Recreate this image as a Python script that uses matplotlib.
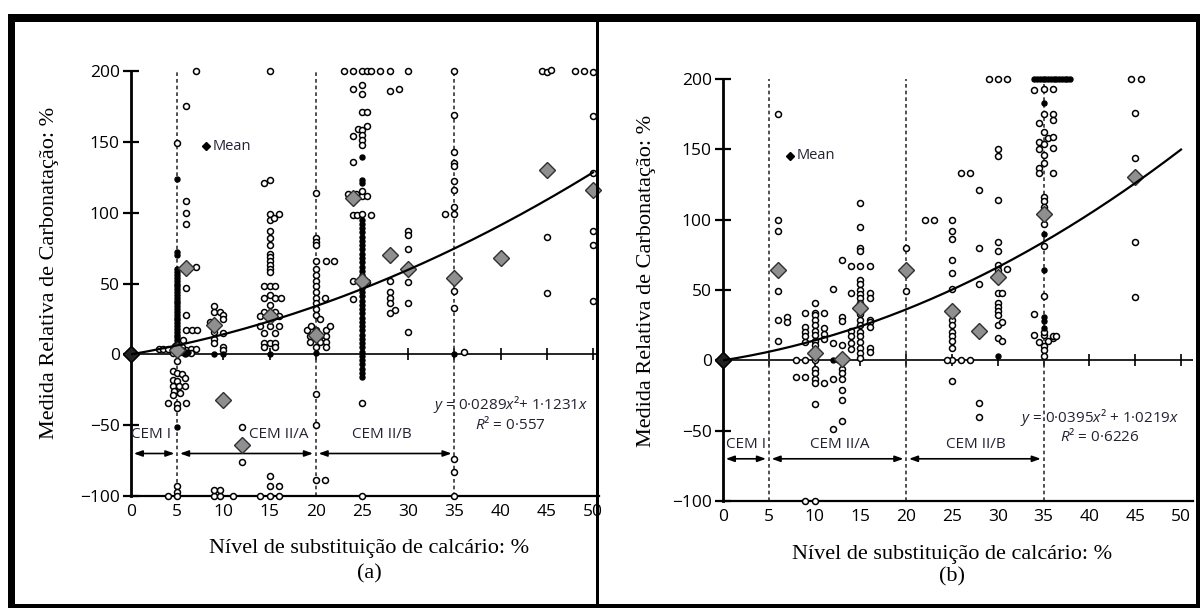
import matplotlib.pyplot as plt
from matplotlib.patches import Rectangle
import numpy as np

plt.rcParams['font.family'] = ['Open Sans', 'DejaVu Sans']
plt.rcParams['mathtext.fontset'] = 'custom'
plt.rcParams['mathtext.rm'] = 'Open Sans'
plt.rcParams['mathtext.it'] = 'Open Sans:italic'

# ---------------- painel (a) ----------------
a_cem1 = [(7, 200), (6, 175), (5, 149), (6, 108), (6, 100), (6, 92),
          (7, 62), (6, 47), (6, 28), (6, 17), (6.6, 17), (7.1, 17),
          (3, 4), (3.5, 4), (4, 4), (4.5, 4)]
a_x5 = [(5.5, 2), (6, 3), (6.5, 4), (6, 1), (5.5, 5), (6.5, 1), (7, 4), (4.5, 1), (5.2, 8), (5.6, 10),
        (4.8, 6), (5, -5), (4.5, -12), (5, -13), (5.5, -14), (4.5, -18), (5, -19), (5.8, -17),
        (4.5, -22), (5.2, -22), (5.8, -22), (4.7, -26), (5.3, -27), (4.5, -29), (4, -34), (5, -35),
        (6, -34), (5, -38), (5, -93), (5, -97), (4, -100), (5, -100)]
a_x10 = [(9, 34), (9, 30), (9.6, 30), (10, 28), (8.5, 23), (9, 16), (9, 11), (10, 15), (10, 25),
         (10, 5), (10, 3), (9, 8), (12, -51), (12, -76), (9, -100), (9.6, -100),
         (9, -96), (9.6, -96), (11, -100)]
a_x15 = [(14.4, 121), (15, 123), (15, 200), (15, 99), (16, 99), (15, 95), (15.5, 96), (15, 87),
         (15, 82), (15, 77), (15, 71), (15, 69), (15, 66), (15, 63), (15, 60), (15, 58), (14.4, 48),
         (15, 48), (15.6, 48), (15, 42), (14.4, 40), (15.6, 40), (16.2, 40), (15, 35), (14.4, 30),
         (15.6, 30), (14, 27), (15, 27), (16, 27), (14, 20), (15, 20), (16, 20), (14.4, 15),
         (15.6, 15), (14.4, 8), (15, 8), (15.6, 8), (14.4, 5), (15.6, 5),
         (14, -100), (15, -100), (16, -100), (15, -93), (16, -93), (15, -86)]
a_x20 = [(20, 114), (20, 82), (20, 79), (20, 77), (20, 66), (21.1, 66), (22, 66), (20, 60),
         (20, 56), (20, 52), (20, 48), (20, 44), (20, 40), (21, 40), (20, 36), (20, 32), (20, 28),
         (20.5, 25), (19, 17), (20, 17), (21.1, 17), (19.4, 13), (20.5, 13), (21.1, 13), (19.4, 9),
         (20.5, 9), (21.1, 9), (20, 5), (21.1, 5), (19.5, 20), (21.5, 20),
         (20, -28), (20, -50), (20, -89), (21, -89)]
a_x25 = [(23, 200), (24, 200), (25, 200), (25.5, 200), (26, 200), (27, 200), (28, 200), (30, 200),
         (25, 190), (24, 187), (25, 184), (28, 186), (29, 187), (25, 171), (25.5, 171), (25.5, 161),
         (24.6, 159), (25, 158), (25, 155), (24, 154), (25, 151), (25, 148), (24, 136),
         (23.5, 113), (24.3, 113), (25, 112), (25.5, 112), (25, 115),
         (24, 98), (24.5, 98), (25, 99), (26, 98),
         (24, 52), (24, 39), (25.5, 51), (25, -34), (25, -100)]
a_x30 = [(28, 52), (28, 44), (28, 40), (28, 36), (28.6, 31), (28, 29), (30, 87), (30, 84), (30, 74),
         (30, 51), (30, 36), (30, 16)]
a_x35 = [(35, 200), (35, 169), (35, 143), (35, 135), (35, 133), (35, 122), (35, 116), (35, 104),
         (35, 99), (34, 99), (35, 45), (35, 33), (36, 2), (35, -74), (35, -83), (35, -100),
         (44.5, 200), (45, 199), (45.5, 201), (48, 200), (49, 200), (50, 199), (50, 168), (50, 128),
         (45, 83), (50, 87), (50, 77), (45, 43), (50, 38)]
# pontos sobrepostos que aparecem preenchidos (colunas densas em 5 % e 25 %)
a_filled = [(5, 70), (5, 72), (5, 124), (25, 139), (25, 123), (25, 121), (35, 0), (9, 0), (10, 0),
            (15, 0), (20, 1), (5, -51),
            (5, 60), (5, 58), (5, 56), (5, 54), (5, 52), (5, 50), (5, 48), (5, 46), (5, 44), (5, 42),
            (5, 40), (5, 38), (5, 36), (5, 34), (5, 32), (5, 30), (5, 28), (5, 26), (5, 24), (5, 22),
            (5, 20), (5, 18), (5, 16), (5, 14), (5, 12), (5, 10), (5, 8), (5, 6), (5, 4), (5, 2),
            (5, 0), (5.6, 3), (6.2, 2), (4.6, 3), (5.8, 0.5),
            (25, 95), (25, 92), (25, 89), (25, 86), (25, 83), (25, 80), (25, 77), (25, 74), (25, 71),
            (25, 68), (25, 65), (25, 62), (25, 59), (25, 56), (25, 53), (25, 50), (25, 47), (25, 44),
            (25, 41), (25, 38), (25, 35), (25, 32), (25, 29), (25, 26), (25, 23), (25, 20), (25, 17),
            (25, 14), (25, 11), (25, 8), (25, 5), (25, 2), (25, -1), (25, -4), (25, -7), (25, -10),
            (25, -13), (25, -16)]
a_mean_x = [0, 5, 6, 9, 10, 12, 15, 20, 24, 25, 28, 30, 35, 40, 45, 50]
a_mean_y = [0, 3, 61, 21, -32, -64, 27, 14, 110, 52, 70, 60, 54, 68, 130, 116]
a_coef = (0.0289, 1.1231)
a_eq = ('$y$ = 0·0289$x$²+ 1·1231$x$', '$R$² = 0·557')

# ---------------- painel (b) ----------------
b_x5 = [(6, 175), (6, 100), (6, 92), (6, 49), (6, 29), (7, 31), (7, 27), (6, 14)]
b_x10 = [(9, 34), (10, 34), (11, 34), (10, 41), (9, 24), (9, 20), (9, 17), (9, 13), (10, 32),
         (10, 29), (10, 25), (10, 21), (10, 18), (10, 14), (10, 11), (10, 7), (11, 23), (11, 19),
         (11, 15), (8, 0), (9, 0), (10, 0), (8, -12), (9, -12), (10, -6), (10, -9), (10, -13),
         (10, -16), (11, -16), (10, -31), (12, -13), (12, 12), (12, -49), (13, -43), (13, 31),
         (13, 28), (13, 11), (13, -6), (13, -9), (13, -13), (13, -21),
         (13, -28), (12, 51), (13, 71), (9, -100), (10, -100)]
b_x15 = [(15, 112), (15, 95), (15, 80), (15, 78), (15, 67), (15, 57), (15, 54), (15, 50), (15, 47),
         (15, 44), (15, 41), (15, 33), (15, 29), (15, 25), (15, 20), (15, 17), (15, 13), (15, 9),
         (15, 5), (15, 2), (14, 67), (14, 48), (14, 21), (14, 17), (14, 12), (14, 8), (16, 67),
         (16, 48), (16, 44), (16, 29), (16, 27), (16, 24), (16, 9), (16, 6)]
b_x20 = [(20, 80), (20, 49), (22, 100), (23, 100)]
b_x25 = [(25, 100), (25, 92), (25, 86), (25, 71), (25, 62), (25, 51), (25, 29), (25, 25), (25, 20),
         (25, 17), (25, 14), (25, 9), (25, 0), (24.5, 0), (26, 0), (27, 0), (25, -15), (26, 133),
         (27, 133), (28, 121), (28, 80), (28, 54), (28, -30), (28, -40)]
b_x30 = [(29, 200), (30, 200), (31, 200), (30, 150), (30, 145), (30, 114), (30, 84), (30, 78),
         (30, 68), (30, 64), (31, 65), (30, 48), (30.5, 48), (30, 41), (30, 38), (30, 35), (30, 32),
         (30, 25), (30.5, 27), (30, 16), (30.5, 14)]
b_x35 = [(34, 192), (35, 193), (36, 193), (35, 175), (36, 175), (36, 171), (34.5, 169),
         (35, 162), (35.5, 158), (36, 159), (34.5, 155), (35, 154), (36, 151), (35, 146),
         (34.5, 150), (35, 140), (34.5, 137), (34.5, 133), (36, 133), (35, 116), (35, 113),
         (35, 109), (35, 107), (35, 97), (35, 81), (35, 46), (34, 33),
         (34, 18), (35, 18), (36, 16), (34.5, 13), (35.5, 14), (35, 10),
         (35, 7), (35, 3), (35, 20), (36, 17), (36.3, 17)]
b_x45 = [(44.5, 200), (45.6, 200), (45, 176), (45, 144), (45, 84), (45, 45)]
b_filled = [(35, 183), (35, 90), (35, 64), (35, 28), (35, 31), (35, 23), (12, 0), (12.5, 0), (30, 3),
            (34, 200), (34.3, 200), (34.6, 200), (34.9, 200), (35.2, 200), (35.5, 200), (35.8, 200),
            (36.1, 200), (36.4, 200), (36.7, 200), (37, 200), (37.3, 200), (37.6, 200), (37.9, 200)]
b_mean_x = [0, 6, 10, 13, 15, 20, 25, 28, 30, 35, 45]
b_mean_y = [0, 64, 5, 1, 37, 64, 35, 21, 59, 104, 130]
b_coef = (0.0395, 1.0219)
b_eq = ('$y$ = 0·0395$x$² + 1·0219$x$', '$R$² = 0·6226')

cem_bounds = [0, 5, 20, 35]
cem_names = ['CEM I', 'CEM II/A', 'CEM II/B']
xticks = list(range(0, 55, 5))
yticks = [-100, -50, 0, 50, 100, 150, 200]

W, H = 1203, 608
fig = plt.figure(figsize=(W / 100, H / 100), dpi=100)
serif = 'Liberation Serif'


def draw_panel(rect, xmax, groups, filled, mx, my, coef, eq, cem_x, cem_y, eq_y, mean_xy):
    ax = fig.add_axes(rect)
    ax.set_xlim(0, xmax)
    ax.set_ylim(-100, 200)
    for s in ['top', 'right']:
        ax.spines[s].set_visible(False)
    ax.spines['left'].set_linewidth(2.0)
    ax.spines['bottom'].set_linewidth(1.6)
    ax.set_yticks(yticks)
    ax.set_xticks(xticks)
    ax.tick_params(axis='y', direction='inout', length=12, width=1.6, pad=2, labelsize=12.5)
    ax.tick_params(axis='x', length=0, pad=6, labelsize=12.5)

    # linha y = 0 com marcas
    ax.axhline(0, color='black', lw=1.2, zorder=1)
    ax.plot(xticks[1:], [0] * (len(xticks) - 1), ls='none', marker='|', ms=9, mew=1.2,
            color='black', zorder=1)

    # linhas tracejadas de separação
    for xv in cem_bounds[1:]:
        ax.plot([xv, xv], [-100, 200], ls=(0, (2.2, 1.8)), lw=1.2, color='#333333', zorder=1)

    # setas
    for i in range(3):
        ax.annotate('', xy=(cem_bounds[i + 1], -70), xytext=(cem_bounds[i], -70),
                    arrowprops=dict(arrowstyle='<|-|>,head_length=0.5,head_width=0.18',
                                    color='black', lw=1.2, shrinkA=2, shrinkB=2))
        ax.text(cem_x[i], cem_y, cem_names[i], ha='center', va='center', fontsize=11,
                color='#222233')

    pts = [p for g in groups for p in g]
    ax.plot([p[0] for p in pts], [p[1] for p in pts], ls='none', marker='o', ms=4.3,
            mfc='white', mec='black', mew=1.1, clip_on=False, zorder=3)
    ax.plot([p[0] for p in filled], [p[1] for p in filled], ls='none', marker='o', ms=3.6,
            mfc='black', mec='black', mew=1.0, clip_on=False, zorder=3)

    ax.plot(mx, my, ls='none', marker='D', ms=7.8, mfc='#8f8f8f', mec='#303030', mew=1.0,
            clip_on=False, zorder=4)
    ax.plot(mx[:1], my[:1], ls='none', marker='D', ms=7.8, mfc='#222222', mec='black',
            clip_on=False, zorder=5)

    xs = np.linspace(0, 50, 200)
    ax.plot(xs, coef[0] * xs ** 2 + coef[1] * xs, color='black', lw=1.6, zorder=5)

    ax.text(41.1, eq_y[0], eq[0], ha='center', va='center', fontsize=11, color='#222233', zorder=6)
    ax.text(41.1, eq_y[1], eq[1], ha='center', va='center', fontsize=11, color='#222233', zorder=6)

    ax.plot([mean_xy[0]], [mean_xy[1]], ls='none', marker='D', ms=3.6, color='black')
    ax.text(mean_xy[0] + 0.7, mean_xy[1], 'Mean', ha='left', va='center', fontsize=10.5,
            color='#222233')
    return ax


draw_panel([131 / W, 1 - 496 / H, 50.6 * 9.24 / W, 425 / H], 50.6,
           [a_cem1, a_x5, a_x10, a_x15, a_x20, a_x25, a_x30, a_x35], a_filled,
           a_mean_x, a_mean_y, a_coef, a_eq, [2.2, 16, 27.2], -56.5, (-35.5, -49.7), (8.1, 147))
draw_panel([723 / W, 1 - 501 / H, 51.3 * 9.16 / W, 422 / H], 51.3,
           [b_x5, b_x10, b_x15, b_x20, b_x25, b_x30, b_x35, b_x45], b_filled,
           b_mean_x, b_mean_y, b_coef, b_eq, [2.5, 12.7, 27.6], -60, (-40.4, -54), (7.3, 145.4))

# rótulos dos eixos
ylab = 'Medida Relativa de Carbonatação: %'
xlab = 'Nível de substituição de calcário: %'
fig.text(50 / W, 1 - 273 / H, ylab, rotation=90, ha='center', va='center', family=serif, fontsize=16)
fig.text(646 / W, 1 - 281 / H, ylab, rotation=90, ha='center', va='center', family=serif, fontsize=16)
fig.text(369 / W, 1 - 549 / H, xlab, ha='center', va='center', family=serif, fontsize=16)
fig.text(952 / W, 1 - 554 / H, xlab, ha='center', va='center', family=serif, fontsize=16)
fig.text(369 / W, 1 - 574 / H, '(a)', ha='center', va='center', family=serif, fontsize=16)
fig.text(952 / W, 1 - 577 / H, '(b)', ha='center', va='center', family=serif, fontsize=16)

# moldura
for (x0, y0, w, h) in [(8, 14, 1192, 8), (8, 14, 7, 594), (8, 604, 1192, 4), (1196, 14, 4, 594),
                       (596, 14, 3, 590)]:
    fig.add_artist(Rectangle((x0 / W, 1 - (y0 + h) / H), w / W, h / H, transform=fig.transFigure,
                             facecolor='black', edgecolor='none'))

fig.savefig('out.png', dpi=100)
